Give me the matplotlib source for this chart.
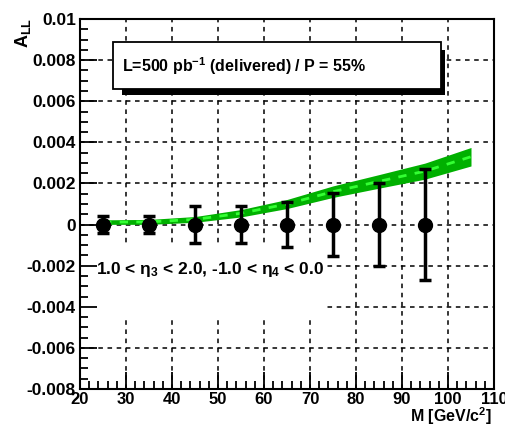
import numpy as np
import matplotlib
matplotlib.use('Agg')
import matplotlib.pyplot as plt
from matplotlib.patches import Rectangle
from matplotlib.ticker import MultipleLocator

plt.rcParams['font.family'] = ['Liberation Sans', 'DejaVu Sans']
plt.rcParams['font.weight'] = 'bold'
plt.rcParams['mathtext.fontset'] = 'custom'
plt.rcParams['mathtext.rm'] = 'Liberation Sans:bold'
plt.rcParams['mathtext.it'] = 'Liberation Sans:bold'
plt.rcParams['mathtext.bf'] = 'Liberation Sans:bold'

# data points (mass bins) and projected errors
M = [25, 35, 45, 55, 65, 75, 85, 95]
A_LL = [0, 0, 0, 0, 0, 0, 0, 0]
err = [0.0004, 0.0004, 0.0009, 0.0009, 0.0011, 0.00155, 0.002, 0.0027]

# theory band
M_th = [25, 35, 45, 55, 65, 75, 85, 95, 105]
A_th = [0.00012, 0.00013, 0.00025, 0.00055, 0.001, 0.0016, 0.0021, 0.0026, 0.0033]
half = [0.00011, 0.00012, 0.00014, 0.00018, 0.00022, 0.00028, 0.00033, 0.00039, 0.00045]

xgrid = [30, 40, 50, 60, 70, 80, 90, 100]
ygrid = [-0.006, -0.004, -0.002, 0, 0.002, 0.004, 0.006, 0.008]

fig = plt.figure(figsize=(5.06, 4.28), dpi=100)
ax = fig.add_axes([80/506, 1-389/428, 414/506, 370/428])

ax.set_xlim(20, 110)
ax.set_ylim(-0.008, 0.01)
ax.xaxis.set_major_locator(MultipleLocator(10))
ax.xaxis.set_minor_locator(MultipleLocator(2))
ax.yaxis.set_minor_locator(MultipleLocator(0.0005))
ax.tick_params(which='both', direction='in', top=False, right=False, labelsize=12.5, pad=3)
ax.tick_params(axis='x', labelsize=12, pad=2)
ax.tick_params(which='major', length=12, width=1.3)
ax.tick_params(which='minor', length=6, width=1.3)
ax.set_yticks([-0.008, -0.006, -0.004, -0.002, 0, 0.002, 0.004, 0.006, 0.008, 0.01])
ax.set_yticklabels(['-0.008', '-0.006', '-0.004', '-0.002', '0', '0.002', '0.004', '0.006', '0.008', '0.01'])
for s in ax.spines.values():
    s.set_linewidth(1.5)

# dashed grid drawn by hand so the white boxes can hide it
for gx in xgrid:
    ax.axvline(gx, color='black', ls=(0, (3, 3)), lw=1.1, zorder=0.6)
for gy in ygrid:
    ax.axhline(gy, color='black', ls=(0, (3, 3)), lw=1.1, zorder=0.6)

lo = np.array(A_th) - np.array(half)
hi = np.array(A_th) + np.array(half)
ax.fill_between(M_th, lo, hi, color='#00b000', lw=0, zorder=2)
ax.plot(M_th, A_th, color='#33ff33', lw=2, ls=(0, (3, 3)), zorder=3)

ax.errorbar(M, A_LL, yerr=err, fmt='o', color='black', ms=10, elinewidth=2.5,
            capsize=4, capthick=2.5, zorder=5)

# legend-like box with shadow
ax.add_patch(Rectangle((29.07, 0.00631), 70.28, 0.00217, facecolor='black',
                       edgecolor='none', zorder=6))
ax.add_patch(Rectangle((27.1, 0.00658), 71.3, 0.00231, facecolor='white',
                       edgecolor='black', lw=1.3, zorder=7))
ax.text(29.2, 0.00773, r'L=500 pb$^{\mathregular{-1}}$ (delivered) / P = 55%',
        fontsize=11.5, fontweight='bold', va='center', ha='left', zorder=8)

# eta range label on white
ax.add_patch(Rectangle((20, -0.0046), 53.3, 0.0036, facecolor='white',
                       edgecolor='none', zorder=1))
ax.text(23.5, -0.0022, r'1.0 < $\eta_3$ < 2.0, -1.0 < $\eta_4$ < 0.0',
        fontsize=12.5, fontweight='bold', va='center', ha='left', zorder=8)

fig.text(492/506, 1/428, r'M [GeV/c$^2$]', fontsize=11.5, fontweight='bold',
         ha='right', va='bottom')
fig.text(23/506, 1-18/428, r'A$_{\mathregular{LL}}$', fontsize=13, fontweight='bold',
         rotation=90, ha='center', va='top')

fig.savefig('out.png', dpi=100)
